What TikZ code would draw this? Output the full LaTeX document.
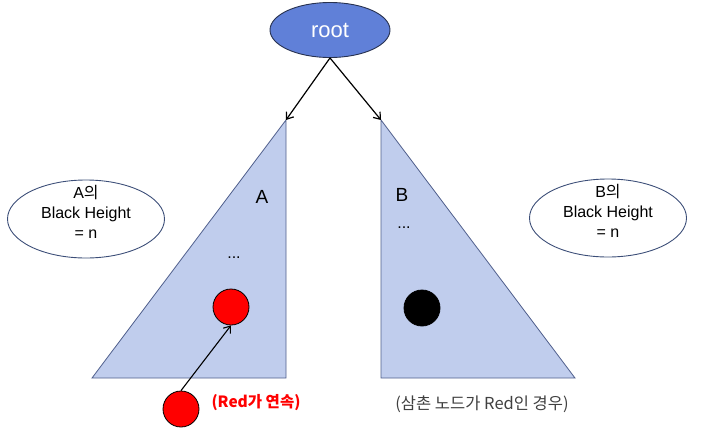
\documentclass[tikz,border=0pt]{standalone}
\usepackage{fontspec}
\setmainfont{Liberation Sans}
\newfontfamily\kr{Noto Sans CJK KR}
\usetikzlibrary{arrows.meta,shapes.geometric}
\definecolor{rootfill}{RGB}{96,128,216}
\definecolor{edgedark}{RGB}{40,50,80}
\definecolor{trifill}{RGB}{192,205,237}
\definecolor{tristroke}{RGB}{80,95,140}
\definecolor{ellstroke}{RGB}{60,78,120}
\definecolor{redfill}{RGB}{255,0,0}
\tikzset{
  ptr/.style={-{Straight Barb[length=6pt,width=9pt]}, line width=1.2pt, black},
  tri/.style={fill=trifill, draw=tristroke, line width=0.8pt},
  info/.style={ellipse, draw=ellstroke, line width=0.9pt, minimum width=157pt, minimum height=78pt, inner sep=0pt},
  infotext/.style={align=center, inner sep=0pt, font=\fontsize{16}{20}\selectfont},
  ball/.style={circle, draw=black, line width=0.8pt, minimum size=36pt, inner sep=0pt},
  lab/.style={font=\fontsize{19}{20}\selectfont},
  dots/.style={font=\fontsize{16}{16}\selectfont}
}
\begin{document}
\begin{tikzpicture}[x=1pt,y=-1pt]
\useasboundingbox (0,0) rectangle (705,437);
% triangles
\coordinate (Atop) at (286,120);
\coordinate (Btop) at (381,120);
\draw[tri] (92,378) -- (286,378) -- (Atop) -- cycle;
\draw[tri] (Btop) -- (381,378) -- (575,378) -- cycle;
% root
\node[ellipse, fill=rootfill, draw=edgedark, line width=0.9pt, minimum width=120pt, minimum height=55pt, inner sep=0pt, text=white, font=\fontsize{22}{22}\selectfont] (root) at (330,30) {root};
\draw[ptr] (root.south) -- (Atop);
\draw[ptr] (root.south) -- (Btop);
% labels in triangles
\node[lab] (la) at (262,197) {A};
\node[lab] (lb) at (402,195) {B};
\node[dots] (da) at (234,258) {...};
\node[dots] (db) at (404,228) {...};
% balls
\node[ball, fill=redfill] (r1) at (231,307) {};
\node[ball, fill=black] (b1) at (422,308) {};
\node[ball, fill=redfill] (r2) at (181,409) {};
\draw[ptr, line width=1.1pt] (r2.north) -- (r1.south);
% info ellipses
\node[info] (ia) at (86,219) {};
\node[infotext] (ta) at (86,212) {A{\kr 의}\\Black Height\\= n};
\node[info] (ib) at (608,218) {};
\node[infotext] (tb) at (608,211) {B{\kr 의}\\Black Height\\= n};
% captions
\node[text=redfill, font=\kr\bfseries\fontsize{15.5}{15.5}\selectfont] (c1) at (256,403) {(Red가 연속)};
\node[text=black!75, font=\kr\fontsize{16.5}{16.5}\selectfont] (c2) at (482,404) {(삼촌 노드가 Red인 경우)};
\end{tikzpicture}
\end{document}
